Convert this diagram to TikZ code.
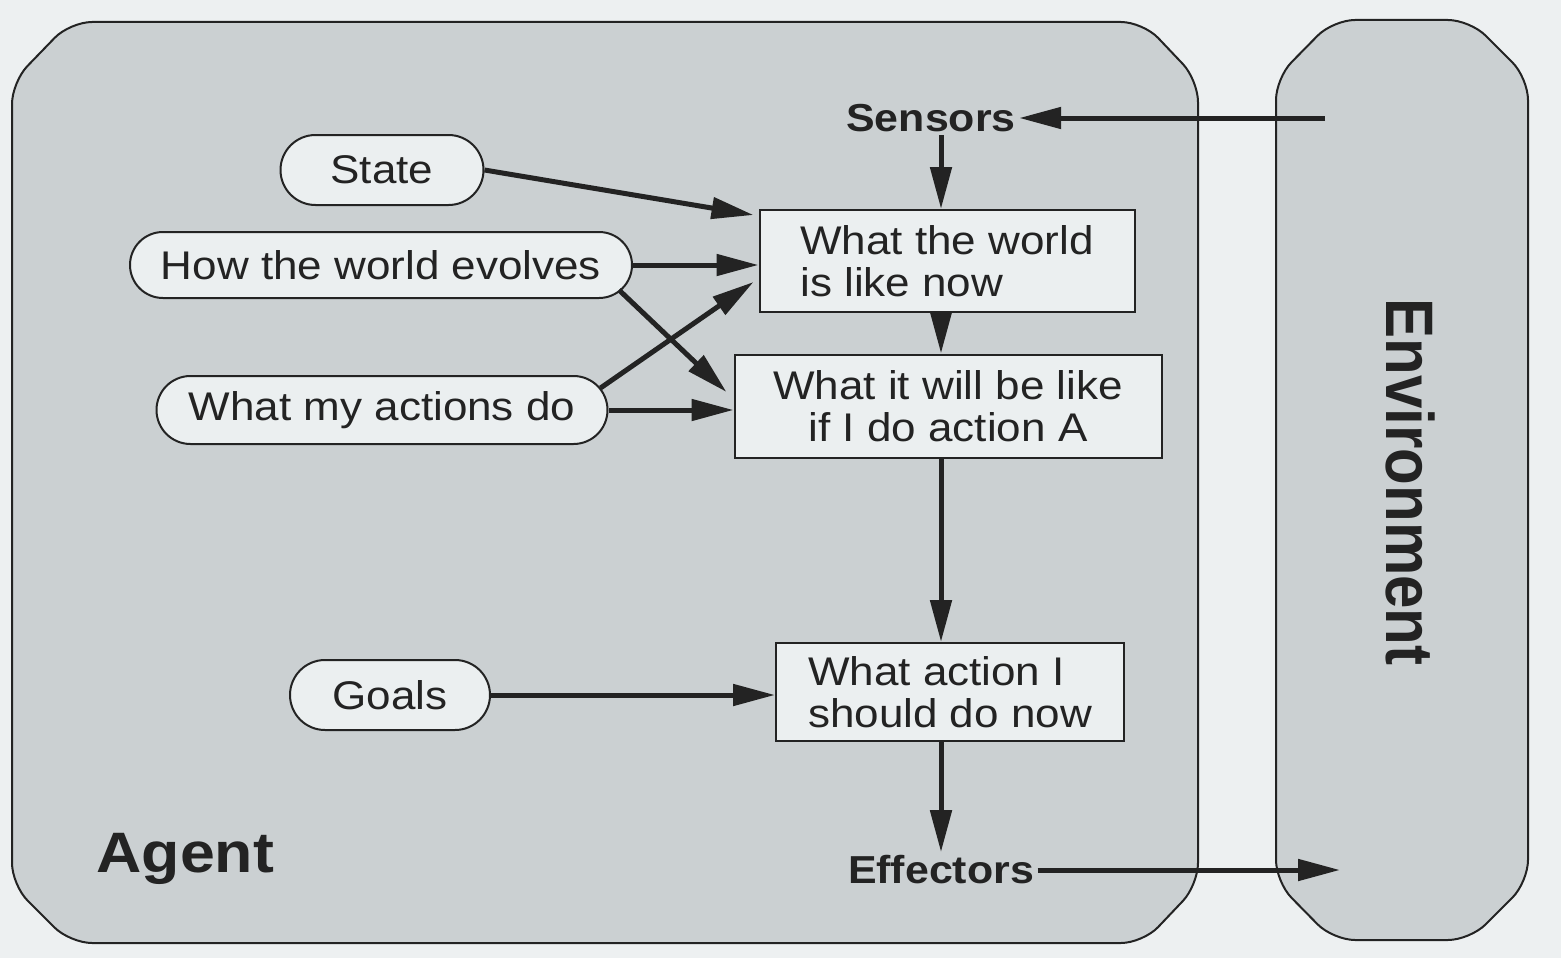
\documentclass[tikz,border=0pt]{standalone}
\usepackage{fontspec}
\usepackage{graphicx}
\setmainfont{Liberation Sans}[FakeStretch=1.1]
\newfontfamily\envfont{Liberation Sans}
\usetikzlibrary{arrows.meta,shapes.misc}
\definecolor{paper}{RGB}{237,240,241}
\definecolor{panel}{RGB}{203,208,210}
\definecolor{boxfill}{RGB}{235,239,240}
\definecolor{ink}{RGB}{35,35,35}

\begin{document}
\begin{tikzpicture}[x=1pt, y=-1pt, >={Triangle[length=42pt,width=21pt]},
  pill/.style={rounded rectangle, draw=ink, line width=2pt, fill=boxfill, inner sep=0pt,
    font=\fontsize{40}{42}\selectfont, text=ink},
  box/.style={draw=ink, line width=2pt, fill=boxfill, inner sep=0pt,
    font=\fontsize{40}{42}\selectfont, text=ink},
  port/.style={font=\bfseries\fontsize{39}{44}\selectfont, text=ink},
  flow/.style={->, line width=5pt, draw=ink},
  panelbox/.style={fill=panel, draw=ink, line width=2pt, rounded corners=22pt}]
% paper, agent and environment
\fill[paper] (0,0) rectangle (1561,958);
\draw[panelbox] (12,500) -- (12,82) -- (70,22) -- (1143,22) -- (1198,80)
  -- (1198,885) -- (1143,943) -- (70,943) -- (12,885) -- cycle;
\draw[panelbox] (1276,500) -- (1276,78) -- (1333,20) -- (1470,20) -- (1528,78)
  -- (1528,882) -- (1470,940) -- (1333,940) -- (1276,882) -- cycle;

\node[port] (sensors) at (931,118) {Sensors};
\node[port] (effectors) at (941,870) {Effectors};
\node[anchor=base west, font=\bfseries\fontsize{57}{64}\selectfont, text=ink] (agent) at (93,872) {Agent};
\node[rotate=-90, text=ink] (env) at (1411,482)
  {\scalebox{1}[1.12]{\envfont\bfseries\fontsize{60}{72}\selectfont Environment}};

% inner boxes
\node[box, minimum width=375pt, minimum height=102pt, align=left] (now) at (947,261) {What the world\\is like now};
\node[box, minimum width=427pt, minimum height=103pt, align=center] (future) at (948,406) {What it will be like\\if I do action A};
\node[box, minimum width=348pt, minimum height=98pt, align=left] (decide) at (950,692) {What action I\\should do now};

\node[pill, minimum width=203pt, minimum height=70pt] (state) at (382,170) {State};
\node[pill, minimum width=502pt, minimum height=66pt] (evolve) at (381,265) {How the world evolves};
\node[pill, minimum width=451pt, minimum height=68pt] (acts) at (382,410) {What my actions do};
\node[pill, minimum width=200pt, minimum height=70pt] (goals) at (390,695) {Goals};

\coordinate (spine) at (941,0);
\coordinate (envin) at (1340,868);
\coordinate (envout) at (1325,118);

% main chain
\draw[flow] (envout) -- (envout -| sensors.east);
\draw[flow] (sensors.south -| spine) -- (now.north -| spine);
\draw[flow] (now.south -| spine) -- (future.north -| spine);
\draw[flow] (future.south -| spine) -- (decide.north -| spine);
\draw[flow] (decide.south -| spine) -- (effectors.north -| spine);
\draw[flow] (effectors.east) -- (effectors.east -| envin);

% knowledge feeding in
\draw[flow] (state.east) -- ([shift={(-5,-46)}]now.west);
\draw[flow] (evolve.east) -- (evolve.east -| now.west);
\draw[flow] ([shift={(-14,25)}]evolve.east) -- ([shift={(-7,-14)}]future.west);
\draw[flow] ([shift={(-8,-22)}]acts.east) -- ([shift={(-5,21)}]now.west);
\draw[flow] (acts.east) -- (acts.east -| future.west);
\draw[flow] (goals.east) -- (goals.east -| decide.west);
\end{tikzpicture}
\end{document}
